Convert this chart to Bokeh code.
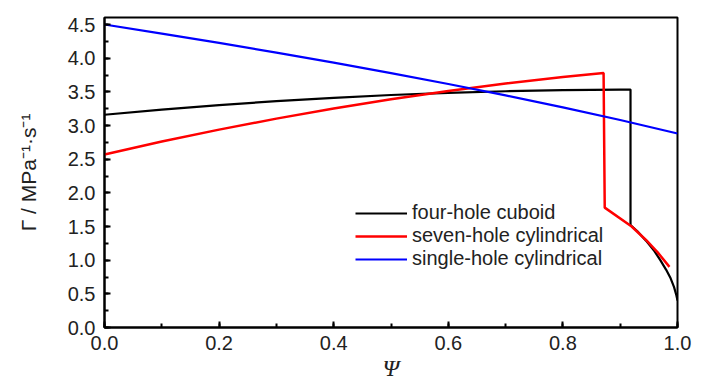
from bokeh.plotting import figure
from bokeh.models import (Legend, LegendItem, Range1d, SingleIntervalTicker,
                          NumeralTickFormatter)
from bokeh.embed import file_html
from bokeh.resources import INLINE

# ---- data ----
psi_black = [0.0, 0.1, 0.2, 0.3, 0.4, 0.5, 0.6, 0.7, 0.8, 0.9, 0.918,
             0.918, 0.93, 0.945, 0.96, 0.97, 0.98, 0.988, 0.994, 0.998, 1.0]
gamma_black = [3.16, 3.236, 3.303, 3.361, 3.411, 3.453, 3.485, 3.509, 3.525, 3.532, 3.533,
               1.52, 1.43, 1.29, 1.13, 1.00, 0.86, 0.73, 0.60, 0.48, 0.40]

psi_red = [0.0, 0.1, 0.2, 0.3, 0.4, 0.5, 0.6, 0.7, 0.8, 0.871,
           0.873, 0.92, 0.945, 0.965, 0.986]
gamma_red = [2.57, 2.761, 2.939, 3.102, 3.253, 3.390, 3.514, 3.624, 3.719, 3.78,
             1.78, 1.50, 1.30, 1.12, 0.90]

psi_blue = [0.0, 0.1, 0.2, 0.3, 0.4, 0.5, 0.6, 0.7, 0.8, 0.9, 1.0]
gamma_blue = [4.50, 4.365, 4.226, 4.082, 3.933, 3.778, 3.617, 3.448, 3.270, 3.082, 2.881]

series_names = ["four-hole cuboid", "seven-hole cylindrical", "single-hole cylindrical"]
x_label = "Ψ"
y_label = "Γ / MPa⁻¹·s⁻¹"

SANS = "Liberation Sans"
SERIF = "Liberation Serif"
TXT = "#222222"

FL, FT, FW, FH = 104, 17, 573, 310   # frame left/top/width/height

p = figure(frame_width=FW, frame_height=FH,
           min_border_left=FL, min_border_top=FT, min_border_right=28, min_border_bottom=55,
           x_range=Range1d(0, 1), y_range=Range1d(0, 4.604),
           output_backend="svg", toolbar_location=None)

p.grid.visible = False
p.outline_line_color = "black"
p.outline_line_width = 2
p.background_fill_color = "white"
p.border_fill_color = "white"

p.xaxis.ticker = SingleIntervalTicker(interval=0.2, num_minor_ticks=2)
p.yaxis.ticker = SingleIntervalTicker(interval=0.5, num_minor_ticks=2)
p.xaxis.formatter = NumeralTickFormatter(format="0.0")
p.yaxis.formatter = NumeralTickFormatter(format="0.0")

for ax in (p.xaxis, p.yaxis):
    ax.axis_line_width = 2
    ax.axis_line_color = "black"
    ax.major_tick_in = 6
    ax.major_tick_out = 0
    ax.minor_tick_in = 4
    ax.minor_tick_out = 0
    ax.major_tick_line_width = 2
    ax.minor_tick_line_width = 2
    ax.major_label_text_font = SANS
    ax.major_label_text_font_size = "20px"
    ax.major_label_text_color = TXT

p.xaxis.major_label_standoff = 8
p.yaxis.major_label_standoff = 9

p.xaxis.axis_label = x_label
p.xaxis.axis_label_text_font = SERIF
p.xaxis.axis_label_text_font_style = "italic"
p.xaxis.axis_label_text_font_size = "24px"
p.xaxis.axis_label_text_color = TXT
p.xaxis.axis_label_standoff = 2

p.yaxis.axis_label = y_label
p.yaxis.axis_label_text_font = SANS
p.yaxis.axis_label_text_font_style = "normal"
p.yaxis.axis_label_text_font_size = "21px"
p.yaxis.axis_label_text_color = TXT
p.yaxis.axis_label_standoff = 25

r_black = p.line(psi_black, gamma_black, line_color="black", line_width=2.2)
r_red = p.line(psi_red, gamma_red, line_color="#ff0000", line_width=2.5)
r_blue = p.line(psi_blue, gamma_blue, line_color="#0000ff", line_width=2.2)

legend = Legend(items=[LegendItem(label=series_names[0], renderers=[r_black]),
                       LegendItem(label=series_names[1], renderers=[r_red]),
                       LegendItem(label=series_names[2], renderers=[r_blue])],
                location=(251, 57), padding=0, margin=0, spacing=-2,
                glyph_width=52, glyph_height=20, label_height=20, label_standoff=5,
                label_text_font=SANS, label_text_font_size="20px", label_text_color=TXT,
                border_line_color=None, background_fill_alpha=0)
p.add_layout(legend, "center")

open("out.html", "w").write(file_html(p, INLINE))
